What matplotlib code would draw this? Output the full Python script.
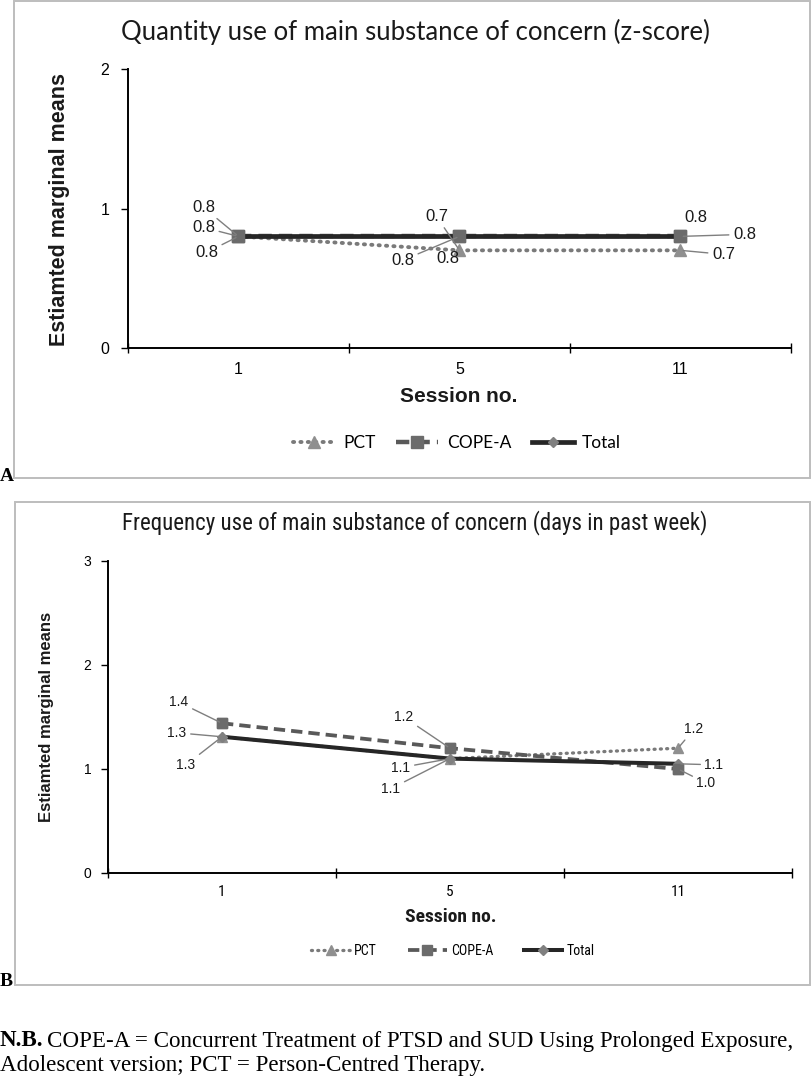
import matplotlib
matplotlib.use("Agg")
import matplotlib.pyplot as plt
from matplotlib.patches import Rectangle

# ---------------- data ----------------
sessions = ["1", "5", "11"]
series_names = ["PCT", "COPE-A", "Total"]

# Panel A: Quantity use (z-score)
a_pct = [0.80, 0.70, 0.70]
a_cope = [0.80, 0.80, 0.80]
a_total = [0.80, 0.80, 0.80]
a_lbl_pct = ["0.8", "0.7", "0.7"]
a_lbl_cope = ["0.8", "0.8", "0.8"]
a_lbl_total = ["0.8", "0.8", "0.8"]

# Panel B: Frequency use (days in past week)
b_pct = [1.31, 1.10, 1.20]
b_cope = [1.44, 1.20, 1.00]
b_total = [1.31, 1.10, 1.05]
b_lbl_pct = ["1.3", "1.1", "1.2"]
b_lbl_cope = ["1.4", "1.2", "1.0"]
b_lbl_total = ["1.3", "1.1", "1.1"]

title_a = "Quantity use of main substance of concern (z-score)"
title_b = "Frequency use of main substance of concern (days in past week)"
ylabel = "Estiamted marginal means"
xlabel = "Session no."
note_bold = "N.B."
note_line1 = "COPE-A = Concurrent Treatment of PTSD and SUD Using Prolonged Exposure,"
note_line2 = "Adolescent version; PCT = Person-Centred Therapy."

W, H = 812, 1081
fig = plt.figure(figsize=(W / 100, H / 100), dpi=100)

def fx(px):
    return px / W

def fy(py):
    return 1 - py / H

SANS = ["Liberation Sans", "DejaVu Sans"]
APTOS = ["Lato", "DejaVu Sans"]
NARROW = ["Liberation Sans Narrow", "Roboto Condensed", "Lato", "DejaVu Sans"]
SERIF = ["Liberation Serif", "DejaVu Serif"]

C_PCT_LINE = "#7a7a7a"
C_PCT_MK = "#8f8f8f"
C_COPE_LINE = "#595959"
C_COPE_MK = "#6b6b6b"
C_TOT_LINE = "#262626"
C_TOT_MK = "#808080"
C_LEAD = "#7f7f7f"


def panel(rect_px, box_px, ylim, yticks, pct, cope, total, lbls, offs, sizes, fams):
    (l, t, r, b) = rect_px
    ax = fig.add_axes([fx(l), fy(b), fx(r - l), (b - t) / H])
    x = list(range(len(sessions)))
    lw_scale, mk_scale, tick_fs, lab_fs = sizes
    h_pct, = ax.plot(x, pct, linestyle=(0, (0.3, 1.6)), dash_capstyle="round",
                     color=C_PCT_LINE, lw=2.8 * lw_scale, marker="^", ms=8 * mk_scale,
                     mfc=C_PCT_MK, mec=C_PCT_MK, zorder=3, label=series_names[0])
    h_cope, = ax.plot(x, cope, linestyle=(0, (3.0, 1.6)), color=C_COPE_LINE,
                      lw=3.2 * lw_scale, marker="s", ms=8.5 * mk_scale,
                      mfc=C_COPE_MK, mec=C_COPE_MK, zorder=4, label=series_names[1])
    h_tot, = ax.plot(x, total, linestyle="-", color=C_TOT_LINE, lw=3.4 * lw_scale,
                     marker="D", ms=5.5 * mk_scale, mfc=C_TOT_MK, mec=C_TOT_MK,
                     zorder=5, label=series_names[2])
    ax.plot(x, cope, linestyle="none", marker="s", ms=8.5 * mk_scale,
            mfc=C_COPE_MK, mec=C_COPE_MK, zorder=6)
    ax.set_xlim(-0.5, len(sessions) - 0.5)
    ax.set_ylim(*ylim)
    ax.set_yticks(yticks)
    ax.set_yticklabels([str(v) for v in yticks], family=SANS, fontsize=tick_fs[0])
    ax.set_xticks(x)
    ax.set_xticklabels(sessions, family=fams, fontsize=tick_fs[1])
    ax.set_xticks([i - 0.5 for i in range(len(sessions) + 1)], minor=True)
    ax.tick_params(axis="x", which="major", length=0, pad=tick_fs[2])
    ax.tick_params(axis="x", which="minor", length=7, direction="inout", width=1, color="black")
    ax.tick_params(axis="y", which="major", length=5, direction="out", width=1,
                   pad=tick_fs[3], colors="black")
    for s in ("top", "right"):
        ax.spines[s].set_visible(False)
    for s in ("left", "bottom"):
        ax.spines[s].set_linewidth(1.4)
        ax.spines[s].set_color("black")
    ax.patch.set_alpha(0)

    vals = [pct, cope, total]
    for si in range(3):
        for i in range(3):
            dx, dy, lead = offs[si][i]
            kw = {}
            if lead:
                kw["arrowprops"] = dict(arrowstyle="-", color=C_LEAD, lw=1.0,
                                        shrinkA=1, shrinkB=2)
            ax.annotate(lbls[si][i], xy=(x[i], vals[si][i]), xytext=(dx, dy),
                        textcoords="offset pixels", ha="center", va="center",
                        fontsize=lab_fs, family=SANS, color="#1a1a1a", zorder=10, **kw)
    bl, bt, br, bb = box_px
    fig.patches.append(Rectangle((fx(bl), fy(bb)), fx(br - bl), (bb - bt) / H,
                                 transform=fig.transFigure, fill=False,
                                 edgecolor="#bdbdbd", lw=1.4))
    return ax, [h_pct, h_cope, h_tot]


# label offsets in pixels (dx, dy, leader)
offs_a = [
    [(-32, -16, True), (-23, 34, True), (43, -4, True)],
    [(-35, 29, True), (-57, -24, True), (64, 2, True)],
    [(-35, 9, True), (-12, -22, False), (15, 19, False)],
]
offs_b = [
    [(-36, -28, True), (-59, -30, True), (16, 19, True)],
    [(-43, 21, True), (-46, 31, True), (28, -14, True)],
    [(-45, 4, True), (-49, -9, True), (36, -1, True)],
]

axA, hA = panel((128, 69, 791, 348), (14, 1, 810, 478), (0, 2), [0, 1, 2],
                a_pct, a_cope, a_total, [a_lbl_pct, a_lbl_cope, a_lbl_total], offs_a,
                (1.0, 1.0, (11.5, 11.5, 10, 8.5), 12), SANS)
axB, hB = panel((108, 561, 792, 873), (15, 502, 810, 985), (0, 3), [0, 1, 2, 3],
                b_pct, b_cope, b_total, [b_lbl_pct, b_lbl_cope, b_lbl_total], offs_b,
                (0.85, 0.9, (10, 11, 9, 7), 10), NARROW)

# titles
fig.text(fx(415), fy(32), title_a, ha="center", va="center", fontsize=18.5, family=APTOS,
         color="#1a1a1a")
fig.text(fx(415), fy(523), title_b, ha="center", va="center", fontsize=16.5, family=NARROW,
         color="#1a1a1a")
# y labels
fig.text(fx(60), fy(210), ylabel, rotation=90, ha="center", va="center", fontsize=15.5,
         fontweight="bold", family=SANS, color="#1a1a1a")
fig.text(fx(47), fy(717), ylabel, rotation=90, ha="center", va="center", fontsize=12,
         fontweight="bold", family=SANS, color="#1a1a1a")
# x labels
fig.text(fx(459), fy(397), xlabel, ha="center", va="center", fontsize=15,
         fontweight="bold", family=SANS, color="#1a1a1a")
fig.text(fx(451), fy(917), xlabel, ha="center", va="center", fontsize=14,
         fontweight="bold", family=NARROW, color="#1a1a1a")

# legends
fig.legend(handles=hA, loc="center", bbox_to_anchor=(fx(457), fy(443)), ncol=3,
           frameon=False, prop={"family": APTOS, "size": 12.5}, handlelength=2.4,
           columnspacing=1.2, handletextpad=0.5)
fig.legend(handles=hB, loc="center", bbox_to_anchor=(fx(453), fy(951)), ncol=3,
           frameon=False, prop={"family": NARROW, "size": 10}, handlelength=2.8,
           columnspacing=2.2, handletextpad=0.3)

# panel letters
fig.text(fx(0), fy(476), "A", ha="left", va="center", fontsize=14, fontweight="bold",
         family=SERIF)
fig.text(fx(0), fy(981), "B", ha="left", va="center", fontsize=14, fontweight="bold",
         family=SERIF)

# note
NOTE_FS = 16.6
nb = fig.text(fx(0), fy(1041), note_bold, ha="left", va="center", fontsize=NOTE_FS,
              fontweight="bold", family=SERIF)
renderer = fig.canvas.get_renderer()
bb = nb.get_window_extent(renderer)
fig.text((bb.x1 + 4) / W, fy(1041), note_line1, ha="left", va="center", fontsize=NOTE_FS,
         family=SERIF)
fig.text(fx(0), fy(1066), note_line2, ha="left", va="center", fontsize=NOTE_FS, family=SERIF)

fig.savefig("out.png", dpi=100)
